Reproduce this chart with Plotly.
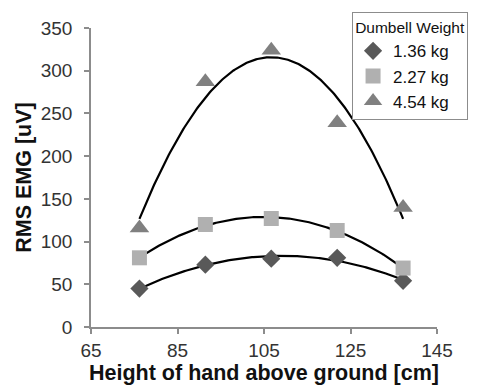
import numpy as np
import plotly.graph_objects as go

heights = [76.2, 91.44, 106.68, 121.92, 137.16]
emg_136 = [45, 73, 80, 81, 54]
emg_227 = [81, 120, 127, 113, 69]
emg_454 = [116, 287, 324, 239, 140]
series_names = ["1.36 kg", "2.27 kg", "4.54 kg"]
series_vals = [emg_136, emg_227, emg_454]
symbols = ["diamond", "square", "triangle-up"]
colors = ["#595959", "#b0b0b0", "#808080"]
sizes = [14, 15, 17]

x_ticks = [65, 85, 105, 125, 145]
y_ticks = [0, 50, 100, 150, 200, 250, 300, 350]

FONT = "Liberation Sans, Arial"

fig = go.Figure()
xs = np.linspace(min(heights), max(heights), 200)
for vals in series_vals:
    c = np.polyfit(heights, vals, 2)
    fig.add_trace(go.Scatter(x=xs, y=np.polyval(c, xs), mode="lines",
                             line=dict(color="black", width=2.2),
                             showlegend=False, hoverinfo="skip"))
for name, vals, sym, col, sz in zip(series_names, series_vals, symbols, colors, sizes):
    fig.add_trace(go.Scatter(x=heights, y=vals, mode="markers", name=name,
                             marker=dict(symbol=sym, color=col, size=sz)))

axis_common = dict(showline=True, linecolor="#8c8c8c", linewidth=1.5,
                   ticks="outside", ticklen=5, tickcolor="#8c8c8c", tickwidth=1.5,
                   showgrid=False, zeroline=False, automargin=False,
                   tickfont=dict(family=FONT, size=19, color="#333333"))

fig.update_layout(
    width=490, height=385,
    margin=dict(l=91, r=53, t=26, b=58),
    plot_bgcolor="white", paper_bgcolor="white",
    xaxis=dict(range=[65, 145], tickvals=x_ticks,
               title=dict(text="Height of hand above ground [cm]", standoff=1,
                          font=dict(family=FONT, size=21.5, color="#111111", weight="bold")),
               **axis_common),
    yaxis=dict(range=[0, 350], tickvals=y_ticks, ticklabelstandoff=8,
               title=dict(text="RMS EMG [uV]", standoff=3,
                          font=dict(family=FONT, size=21.5, color="#111111", weight="bold")),
               **axis_common),
    legend=dict(x=0.7545, y=1.053, xanchor="left", yanchor="top",
                bordercolor="#8c8c8c", borderwidth=1, bgcolor="white",
                font=dict(family=FONT, size=17, color="#111111"),
                title=dict(text="Dumbell Weight", side="top center",
                           font=dict(family=FONT, size=15.5, color="#111111")),
                itemwidth=30, tracegroupgap=0),
)

fig.write_html("out.html")
